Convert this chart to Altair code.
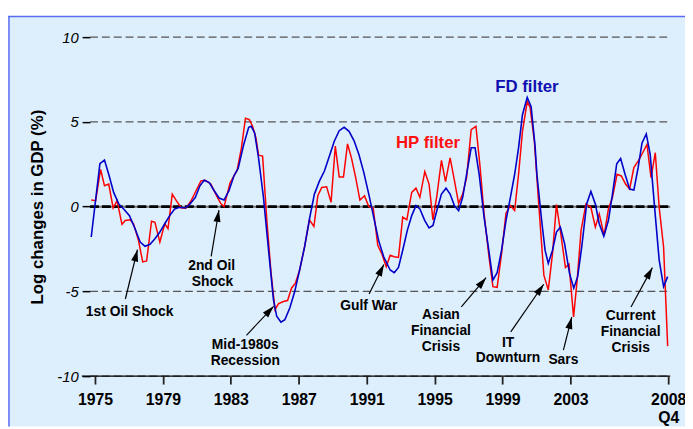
import math
import altair as alt
import pandas as pd

# ---------------- data ----------------
hp_year = [1974.78, 1975.04, 1975.33, 1975.56, 1975.81, 1976.07, 1976.3, 1976.59, 1976.78, 1977.07,
           1977.27, 1977.56, 1977.81, 1978.04, 1978.33, 1978.53, 1978.82, 1979.11, 1979.3, 1979.55,
           1979.79, 1980.08, 1980.37, 1980.66, 1980.95, 1981.24, 1981.49, 1981.82, 1982.11, 1982.4,
           1982.6, 1982.95, 1983.37, 1983.62, 1983.86, 1984.09, 1984.28, 1984.48, 1984.63, 1984.87,
           1985.12, 1985.37, 1985.6, 1985.8, 1986.09, 1986.34, 1986.57, 1986.8, 1987.05, 1987.34,
           1987.63, 1987.89, 1988.12, 1988.35, 1988.64, 1988.9, 1989.15, 1989.38, 1989.63, 1989.87,
           1990.1, 1990.35, 1990.6, 1990.87, 1991.12, 1991.38, 1991.65, 1991.9, 1992.15, 1992.38,
           1992.62, 1992.87, 1993.12, 1993.36, 1993.65, 1993.9, 1994.13, 1994.42, 1994.67, 1994.9,
           1995.13, 1995.4, 1995.64, 1995.91, 1996.16, 1996.41, 1996.65, 1996.88, 1997.15, 1997.43,
           1997.66, 1997.91, 1998.2, 1998.43, 1998.68, 1998.94, 1999.2, 1999.46, 1999.71, 1999.94,
           2000.17, 2000.45, 2000.62, 2000.87, 2001.1, 2001.24, 2001.43, 2001.69, 2001.94, 2002.17,
           2002.4, 2002.7, 2002.91, 2003.18, 2003.39, 2003.62, 2003.91, 2004.2, 2004.46, 2004.69,
           2004.98, 2005.23, 2005.47, 2005.74, 2005.99, 2006.24, 2006.48, 2006.73, 2006.98, 2007.25,
           2007.5, 2007.74, 2007.99, 2008.22, 2008.48, 2008.72]
hp_value = [0.39, 0.35, 2.2, 1.23, 1.33, -0.08, 0.35, -1.05, -0.82, -0.78,
            -1.01, -1.99, -3.26, -3.2, -0.86, -0.92, -2.09, -1.01, -1.3, 0.74,
            0.35, -0.08, -0.08, 0.35, 0.94, 1.52, 1.56, 1.33, 0.74, 0.19,
            0.0, 1.4, 2.15, 3.45, 5.22, 5.13, 4.74, 4.05, 3.04, 2.98,
            -0.82, -3.94, -6.08, -5.73, -5.6, -5.54, -4.81, -4.52, -3.74, -2.38,
            -0.78, -1.17, 0.64, 1.13, 1.17, 0.25, 3.57, 1.75, 1.75, 3.7,
            2.88, 1.71, 0.39, 0.64, 0.0, -0.08, -2.28, -2.81, -3.55, -2.87,
            -2.96, -3.0, -0.62, -0.78, 0.84, 1.09, 0.55, 2.07, 1.33, -0.78,
            0.64, 2.73, 1.48, 2.88, 1.56, 0.19, 0.74, 1.71, 4.54, 4.74,
            2.49, -0.43, -2.96, -4.72, -4.76, -2.77, -0.39, 0.06, -0.23, 1.91,
            4.44, 6.2, 5.85, 3.86, 0.55, -1.4, -4.04, -4.91, -2.77, 0.12,
            -1.4, -3.59, -3.39, -6.51, -4.33, -1.4, 0.16, -0.04, -1.21, -0.43,
            -1.7, -0.14, 0.55, 1.91, 1.81, 1.33, 1.04, 2.3, 2.69, 3.18,
            3.67, 1.71, 3.18, -0.04, -2.38, -8.23]

fd_year = [1974.78, 1975.29, 1975.56, 1975.81, 1976.1, 1976.4, 1976.69, 1977.03, 1977.36, 1977.66,
           1977.95, 1978.24, 1978.53, 1978.82, 1979.11, 1979.4, 1979.69, 1979.98, 1980.33, 1980.6,
           1980.91, 1981.18, 1981.43, 1981.73, 1982.02, 1982.31, 1982.6, 1982.89, 1983.18, 1983.43,
           1983.76, 1984.05, 1984.2, 1984.4, 1984.63, 1984.92, 1985.22, 1985.51, 1985.7, 1985.95,
           1986.18, 1986.47, 1986.76, 1987.05, 1987.34, 1987.63, 1987.92, 1988.22, 1988.51, 1988.8,
           1989.09, 1989.38, 1989.67, 1989.96, 1990.25, 1990.54, 1990.83, 1991.12, 1991.41, 1991.7,
           1992.0, 1992.38, 1992.62, 1992.87, 1993.12, 1993.39, 1993.65, 1993.9, 1994.13, 1994.42,
           1994.67, 1994.9, 1995.13, 1995.4, 1995.67, 1995.91, 1996.16, 1996.41, 1996.65, 1996.88,
           1997.15, 1997.38, 1997.62, 1997.91, 1998.16, 1998.43, 1998.68, 1998.94, 1999.2, 1999.46,
           1999.71, 1999.94, 2000.17, 2000.45, 2000.68, 2000.91, 2001.02, 2001.3, 2001.5, 2001.69,
           2001.94, 2002.17, 2002.4, 2002.65, 2002.94, 2003.19, 2003.42, 2003.66, 2003.95, 2004.2,
           2004.46, 2004.69, 2004.96, 2005.23, 2005.47, 2005.72, 2005.95, 2006.21, 2006.48, 2006.73,
           2006.98, 2007.21, 2007.46, 2007.69, 2007.95, 2008.22, 2008.48, 2008.72]
fd_value = [-1.79, 2.53, 2.75, 1.91, 0.84, 0.16, -0.14, -0.53, -1.3, -2.09,
            -2.34, -2.22, -1.89, -1.5, -1.01, -0.53, -0.14, -0.04, -0.08, 0.16,
            0.55, 1.23, 1.56, 1.42, 0.94, 0.51, 0.39, 0.94, 1.81, 2.25,
            3.67, 4.68, 4.74, 4.35, 2.88, 0.55, -2.57, -5.5, -6.47, -6.82,
            -6.67, -5.98, -5.01, -3.74, -2.38, -0.72, 0.74, 1.52, 2.1, 2.98,
            3.86, 4.48, 4.68, 4.44, 3.9, 3.08, 2.01, 0.74, -0.62, -1.99,
            -2.96, -3.74, -3.9, -3.59, -2.57, -1.4, -0.53, 0.06, -0.14, -0.82,
            -1.25, -1.11, -0.23, 0.74, 1.09, 0.74, 0.06, -0.23, 0.55, 1.91,
            3.47, 3.47, 1.91, -0.62, -2.38, -4.33, -3.9, -2.57, -0.82, 0.55,
            1.91, 3.47, 5.42, 6.45, 5.9, 3.6, 1.91, -0.82, -2.57, -3.35,
            -2.57, -1.5, -1.21, -2.18, -3.94, -4.81, -4.13, -2.38, 0.16, 0.9,
            0.16, -1.01, -1.75, -0.82, 0.74, 2.53, 2.84, 1.91, 1.04, 0.98,
            2.3, 3.76, 4.29, 3.08, -0.04, -3.16, -4.72, -4.13]

x_tick_values = [1975, 1979, 1983, 1987, 1991, 1995, 1999, 2003, 2008.75]
y_tick_values = [-10, -5, 0, 5, 10]
grid_levels = [10, 5, -5, -10]

# annotation texts (one row per printed line), anchored in data units
note_text = ["1st Oil Shock", "2nd Oil", "Shock", "Mid-1980s", "Recession", "Gulf War",
             "Asian", "Financial", "Crisis", "IT", "Downturn", "Sars",
             "Current", "Financial", "Crisis"]
note_x = [1977.04, 1981.87, 1981.92, 1983.85, 1983.85, 1991.12,
          1995.37, 1995.37, 1995.37, 1999.32, 1999.32, 2002.58,
          2006.54, 2006.54, 2006.54]
note_y = [-6.21, -3.53, -4.46, -8.19, -9.13, -5.86,
          -6.38, -7.32, -8.31, -8.02, -8.95, -9.07,
          -6.44, -7.38, -8.37]

# arrows: tail -> head (data units)
arrow_tx = [1976.79, 1981.84, 1983.92, 1991.14, 1996.57, 1999.48, 2002.58, 2006.56]
arrow_ty = [-5.45, -2.94, -7.59, -5.16, -5.92, -7.39, -8.47, -5.92]
arrow_hx = [1977.50, 1982.30, 1985.52, 1992.01, 1998.03, 2001.42, 2003.07, 2007.82]
arrow_hy = [-2.54, -0.20, -5.88, -3.41, -4.19, -4.58, -6.52, -3.60]

series_label = ["HP filter", "FD filter"]
series_label_x = [1994.61, 2000.43]
series_label_y = [3.76, 7.03]

# ---------------- layout ----------------
W, H = 685, 415
X0, X1 = 1969.879, 2009.740
Y0, Y1 = -12.974, 11.2245
PX_PER_YEAR = W / (X1 - X0)
PX_PER_UNIT = H / (Y1 - Y0)
GRID_X0, GRID_X1 = 1974.709, 2008.867
AXIS_X0 = 1974.226

RED = "#ff0000"
BLUE = "#0000c8"
FONT = "Liberation Sans"

xs = alt.Scale(domain=[X0, X1], nice=False, zero=False)
ys = alt.Scale(domain=[Y0, Y1], nice=False, zero=False)

lines = pd.DataFrame({
    "year": hp_year + fd_year,
    "value": hp_value + fd_value,
    "series": ["HP"] * len(hp_year) + ["FD"] * len(fd_year),
})

grid_df = pd.DataFrame({"y": grid_levels, "x0": GRID_X0, "x1": GRID_X1})
zero_df = pd.DataFrame({"y": [0], "x0": [GRID_X0], "x1": [GRID_X1]})
axis_df = pd.DataFrame({"y": [-10], "x0": [AXIS_X0], "x1": [GRID_X1]})

angles = []
for tx, ty, hx, hy in zip(arrow_tx, arrow_ty, arrow_hx, arrow_hy):
    dx = (hx - tx) * PX_PER_YEAR
    dup = (hy - ty) * PX_PER_UNIT
    angles.append(math.degrees(math.atan2(dx, dup)) % 360)
arrows = pd.DataFrame({"tx": arrow_tx, "ty": arrow_ty, "hx": arrow_hx, "hy": arrow_hy, "ang": angles})

notes = pd.DataFrame({"text": note_text, "x": note_x, "y": note_y})
slabels = pd.DataFrame({"text": series_label, "x": series_label_x, "y": series_label_y,
                        "c": ["#ff1010", "#1010b0"]})

X_AXIS = alt.Axis(values=x_tick_values, offset=-51, domain=False, grid=False,
                  tickSize=8, tickColor="#222222", tickWidth=1.8,
                  labelFont=FONT, labelFontWeight="bold", labelFontSize=16, labelColor="black",
                  labelPadding=8, labelLineHeight=18, labelFlush=False, labelOverlap=False,
                  labelExpr="datum.value > 2008 ? ['2008', 'Q4'] : format(datum.value, 'd')",
                  title=None)
Y_AXIS = alt.Axis(values=y_tick_values, offset=-83, domain=False, grid=False,
                  tickSize=8, tickColor="black", tickWidth=1.5,
                  labelFont=FONT, labelFontStyle="italic", labelFontSize=15, labelColor="black",
                  labelPadding=4, labelFlush=False, labelExpr="'' + datum.value",
                  title="Log changes in GDP (%)", titleFont=FONT, titleFontSize=17,
                  titleFontWeight="bold", titleColor="black", titleAngle=270,
                  titleBaseline="middle", titleAlign="center", titleX=-53, titleY=192.5)


def X(field, axis=None):
    return alt.X(field, scale=xs, axis=axis) if axis is not None else alt.X(field, scale=xs)


def Y(field, axis=None):
    return alt.Y(field, scale=ys, axis=axis) if axis is not None else alt.Y(field, scale=ys)


def rules(df, xaxis=None, yaxis=None, **style):
    return alt.Chart(df).mark_rule(**style).encode(
        x=X("x0:Q", xaxis), x2="x1:Q", y=Y("y:Q", yaxis))


grid = rules(grid_df, xaxis=X_AXIS, yaxis=Y_AXIS,
             color="#555555", strokeWidth=1.2, strokeDash=[8, 4])
zero_base = rules(zero_df, color="#777777", strokeWidth=2)
zero_dash = rules(zero_df, color="black", strokeWidth=2.6, strokeDash=[9, 3])
axis_line = rules(axis_df, color="black", strokeWidth=1.5)

base = alt.Chart(lines)
hp_line = base.transform_filter(alt.datum.series == "HP").mark_line(
    color=RED, strokeWidth=1.5).encode(x=X("year:Q"), y=Y("value:Q"))
fd_line = base.transform_filter(alt.datum.series == "FD").mark_line(
    color=BLUE, strokeWidth=1.6).encode(x=X("year:Q"), y=Y("value:Q"))

arrow_shaft = alt.Chart(arrows).mark_rule(color="black", strokeWidth=1.2).encode(
    x=X("tx:Q"), y=Y("ty:Q"), x2="hx:Q", y2="hy:Q")
arrow_head = alt.Chart(arrows).mark_point(
    shape="M0,0L0.6,2L-0.6,2Z", filled=True, color="black", size=144, opacity=1,
    strokeWidth=0).encode(
    x=X("hx:Q"), y=Y("hy:Q"), angle=alt.Angle("ang:Q", scale=None))

note_marks = alt.Chart(notes).mark_text(
    font=FONT, fontWeight="bold", fontSize=14, color="black",
    align="center", baseline="middle").encode(
    x=X("x:Q"), y=Y("y:Q"), text="text:N")

series_marks = alt.Chart(slabels).mark_text(
    font=FONT, fontWeight="bold", fontSize=17, align="center", baseline="middle").encode(
    x=X("x:Q"), y=Y("y:Q"), text="text:N", color=alt.Color("c:N", scale=None))

border_top = alt.Chart(pd.DataFrame({"a": [0]})).mark_rule(color="#5a6cf0", strokeWidth=1.5).encode(
    x=alt.value(0), x2=alt.value(W), y=alt.value(0))
border_left = alt.Chart(pd.DataFrame({"a": [0]})).mark_rule(color="#5a6cf0", strokeWidth=1.5).encode(
    x=alt.value(1), y=alt.value(0), y2=alt.value(H))

chart = alt.layer(
    grid, zero_base, zero_dash, axis_line, hp_line, fd_line,
    arrow_shaft, arrow_head, note_marks, series_marks, border_top, border_left
).properties(
    width=W, height=H,
    autosize=alt.AutoSizeParams(type="none"),
    padding={"left": 0, "top": 6, "right": 0, "bottom": 0},
    background="white",
).configure_view(fill="#ddeefd", strokeWidth=0)

chart.save("out.html", embed_options={"renderer": "svg", "actions": False})
